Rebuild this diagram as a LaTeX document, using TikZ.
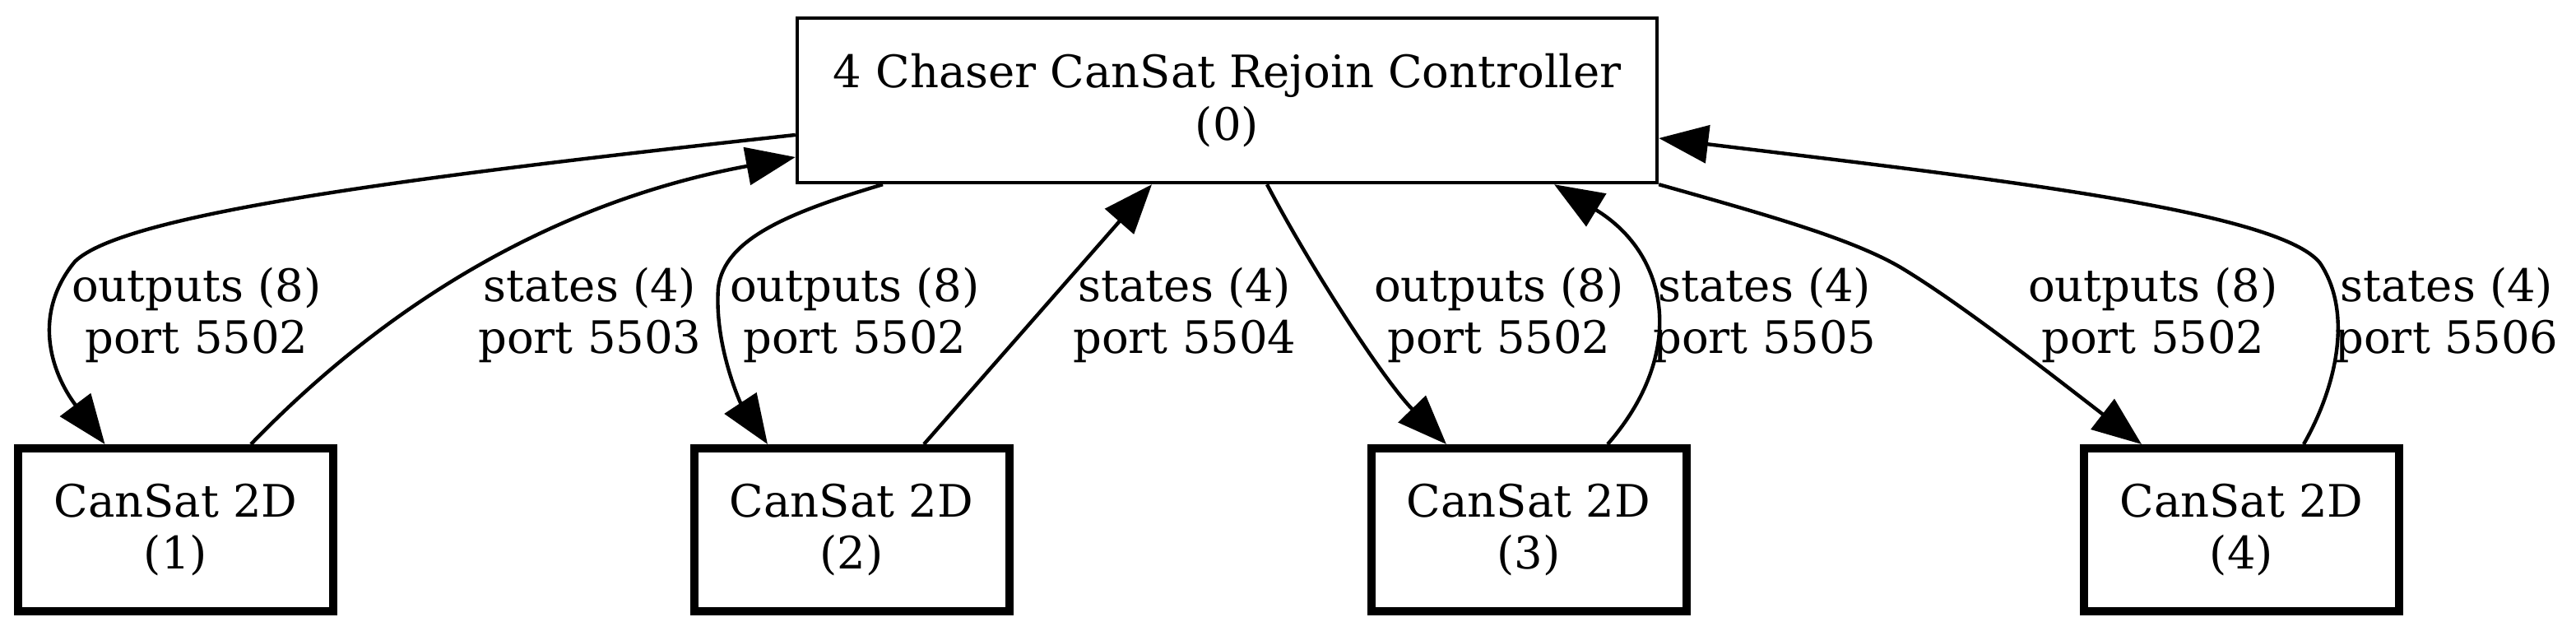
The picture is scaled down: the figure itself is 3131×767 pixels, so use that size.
\documentclass[tikz,border=0pt]{standalone}
\usepackage{fontspec}
\setmainfont{DejaVu Serif}
\usepackage{tikz}
\usetikzlibrary{arrows.meta}
\usetikzlibrary{calc}

\begin{document}
\begin{tikzpicture}[x={(0.25pt,0)},y={(0,-0.25pt)},
    ctrlbox/.style={draw, rectangle, line width=1.1pt, minimum width=261.25pt, minimum height=50pt, inner sep=0pt, align=center, font=\fontsize{13.6pt}{15.9pt}\selectfont},
    satbox/.style={ctrlbox, line width=2.5pt, minimum width=95.75pt, minimum height=49.5pt},
    lbl/.style={align=center, inner sep=0pt, font=\fontsize{13.6pt}{15.9pt}\selectfont},
    flow/.style={line width=1.1pt, -{Triangle[length=15pt, width=11.5pt]}}]
        \useasboundingbox (0,0) rectangle (3131,767);

        \node[ctrlbox](c0) at (1491.5,122){4 Chaser CanSat Rejoin Controller\\(0)};
        \node[satbox](c1) at (213.5,644){CanSat 2D\\(1)};
        \node[satbox](c2) at (1035,644){CanSat 2D\\(2)};
        \node[satbox](c3) at (1858,644){CanSat 2D\\(3)};
        \node[satbox](c4) at (2724.5,644){CanSat 2D\\(4)};

        \node[lbl](L1) at (239,383){outputs (8)\\port 5502};
        \node[lbl](L2) at (717,383){states (4)\\port 5503};
        \node[lbl](L3) at (1039,383){outputs (8)\\port 5502};
        \node[lbl](L4) at (1440,383){states (4)\\port 5504};
        \node[lbl](L5) at (1822,383){outputs (8)\\port 5502};
        \node[lbl](L6) at (2145,383){states (4)\\port 5505};
        \node[lbl](L7) at (2617,383){outputs (8)\\port 5502};
        \node[lbl](L8) at (2974,383){states (4)\\port 5506};

        \draw[flow] ($(c0.west)+(0,42)$) .. controls (500,215) and (150,260) .. (91,318) .. controls (40,380) and (60,450) .. ($(c1.north)+(-86,0)$);
        \draw[flow] ($(c1.north)+(91.5,0)$) .. controls (450,390) and (650,250) .. ($(c0.west)+(0,69)$);
        \draw[flow] ($(c0.south)+(-418.5,0)$) .. controls (960,258) and (880,290) .. (873,350) .. controls (868,420) and (900,490) .. ($(c2.north)+(-102,0)$);
        \draw[flow] ($(c2.north)+(88,0)$) -- ($(c0.south)+(-91.5,0)$);
        \draw[flow] ($(c0.south)+(48.5,0)$) .. controls (1590,320) and (1680,460) .. ($(c3.north)+(-100,0)$);
        \draw[flow] ($(c3.north)+(96,0)$) .. controls (2050,430) and (2030,310) .. ($(c0.south)+(397.5,0)$);
        \draw[flow] (c0.south east) .. controls (2150,262) and (2250,290) .. (2310,325) .. controls (2380,367) and (2480,445) .. ($(c4.north)+(-121.5,0)$);
        \draw[flow] ($(c4.north)+(75.5,0)$) .. controls (2840,470) and (2860,380) .. (2820,320) .. controls (2770,255) and (2400,215) .. ($(c0.east)+(0,46)$);

      \end{tikzpicture}
\end{document}
